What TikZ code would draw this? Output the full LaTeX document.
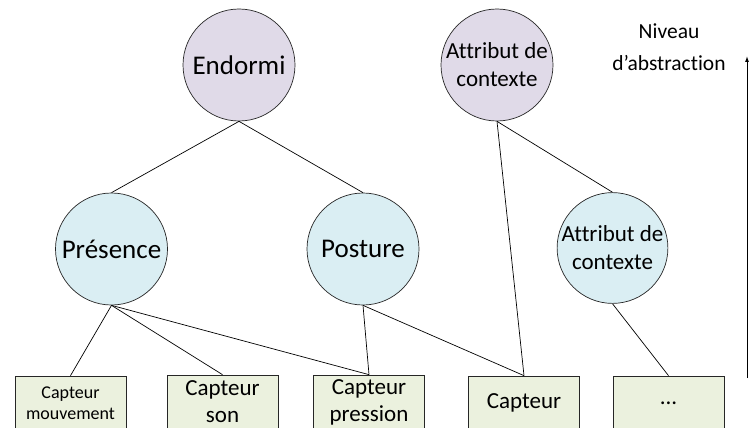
\documentclass[tikz,border=0pt]{standalone}
\usepackage{fontspec}
\setmainfont{Carlito}[Ligatures={NoCommon}]
\usetikzlibrary{arrows.meta}
\definecolor{lavande}{HTML}{E0DAE8}
\definecolor{bleuclair}{HTML}{DAEEF3}
\definecolor{vertclair}{HTML}{EBF1DE}
\begin{document}
\begin{tikzpicture}[x=1pt,y=-1pt,line width=.7pt,
 cercle/.style={circle,draw=black!85,inner sep=0pt,minimum size=112pt,align=center},
 haut/.style={cercle,fill=lavande},
 milieu/.style={cercle,fill=bleuclair},
 capteur/.style={rectangle,draw=black!85,fill=vertclair,minimum width=111pt,minimum height=54pt,inner sep=0pt,align=center,font=\fontsize{23}{27}\selectfont}]
 \useasboundingbox (0,0) rectangle (749,428);
 % niveau haut
 \node[haut,font=\fontsize{27}{32}\selectfont] (endormi) at (239,65) {Endormi};
 \node[haut,font=\fontsize{23}{28}\selectfont] (ctxA) at (497,65) {Attribut de\\contexte};
 % niveau milieu
 \node[milieu,font=\fontsize{27}{32}\selectfont] (presence) at (111.5,249) {Présence};
 \node[milieu,font=\fontsize{27}{32}\selectfont] (posture) at (363,249) {Posture};
 \node[milieu,minimum size=106pt,font=\fontsize{23}{28}\selectfont] (ctxB) at (612.5,248) {Attribut de\\contexte};
 % capteurs
 \node[capteur,font=\fontsize{18}{21}\selectfont] (mouvement) at (70.5,403) {Capteur\\mouvement};
 \node[capteur] (son) at (222.5,402) {Capteur\\son};
 \node[capteur] (pression) at (369,402) {Capteur\\pression};
 \node[capteur] (capteur) at (524,403) {Capteur};
 \node[capteur] (autres) at (668.5,403) {...};
 % liens
 \draw (endormi.south)--(presence.north);
 \draw (endormi.south)--(posture.north);
 \draw (ctxA.south)--(ctxB.north);
 \draw (ctxA.south)--(capteur.north);
 \draw (presence.south)--(mouvement.north);
 \draw (presence.south)--(son.north);
 \draw (presence.south)--(pression.north);
 \draw (posture.south)--(pression.north);
 \draw (posture.south)--(capteur.north);
 \draw (ctxB.south)--(autres.north);
 % axe
 \coordinate (bas) at (747,378); \coordinate (sommet) at (747,56);
 \draw[line width=1pt,-{Latex[length=6pt,width=4pt]}] (bas)--(sommet);
 \node[align=center,font=\fontsize{21.5}{32}\selectfont] (niveau) at (669,47) {Niveau\\d’abstraction};
\end{tikzpicture}
\end{document}
